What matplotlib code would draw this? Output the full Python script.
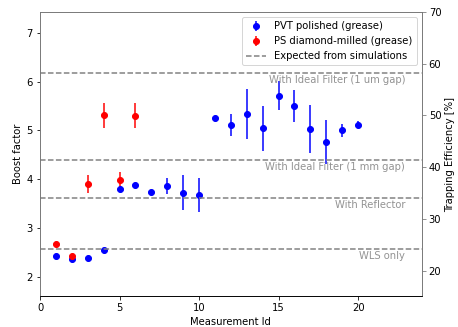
import numpy as np
import matplotlib
matplotlib.use('Agg')
import matplotlib.pyplot as plt

# PVT polished (grease) - boost factor per measurement
pvt_id = [1, 2, 3, 4, 5, 6, 7, 8, 9, 10, 11, 12, 13, 14, 15, 16, 17, 18, 19, 20]
pvt_boost = [2.42, 2.35, 2.37, 2.55, 3.80, 3.87, 3.74, 3.86, 3.72, 3.67,
             5.25, 5.11, 5.34, 5.04, 5.71, 5.50, 5.03, 4.76, 5.00, 5.12]
pvt_err = [0, 0, 0, 0, 0, 0, 0, 0.17, 0.36, 0.35,
           0, 0.23, 0.51, 0.46, 0.30, 0.32, 0.50, 0.45, 0.14, 0.08]

# PS diamond-milled (grease)
ps_id = [1, 2, 3, 4, 5, 6]
ps_boost = [2.67, 2.42, 3.90, 5.31, 3.99, 5.30]
ps_err = [0, 0, 0.18, 0.26, 0.16, 0.26]

# Expected trapping efficiency from simulations [%]
sim_eff = [58.3, 41.3, 34.0, 24.2]
sim_labels = ['With Ideal Filter (1 um gap)', 'With Ideal Filter (1 mm gap)',
              'With Reflector', 'WLS only']

fig = plt.figure(figsize=(458 / 72, 327 / 72), dpi=72)
ax = fig.add_axes([40 / 458, 31 / 327, 381.7 / 458, 284 / 327])
ax2 = ax.twinx()

h1 = ax.errorbar(pvt_id, pvt_boost, yerr=pvt_err, fmt='o', color='blue',
                 label='PVT polished (grease)')
h2 = ax.errorbar(ps_id, ps_boost, yerr=ps_err, fmt='o', color='red',
                 label='PS diamond-milled (grease)')

for eff, lab in zip(sim_eff, sim_labels):
    hl = ax2.axhline(eff, color='gray', linestyle='--', label='Expected from simulations')
    ax2.annotate(lab, (22.95, eff), xytext=(0, -2), textcoords='offset points',
                 ha='right', va='top', color='gray', alpha=0.85)

ax.set_xlim(0, 24)
ax.set_ylim(1.6, 7.43)
ax2.set_ylim(15.1, 70.0)
ax.set_xlabel('Measurement Id')
ax.set_ylabel('Boost factor')
ax2.set_ylabel('Trapping Efficiency [%]')

for a in (ax, ax2):
    for s in ('left', 'right', 'top'):
        a.spines[s].set_color('#777777')
ax2.tick_params(axis='y', color='#777777')

ax2.legend(handles=[h1, h2, hl], loc='upper right')

fig.savefig('out.png', dpi=72)
